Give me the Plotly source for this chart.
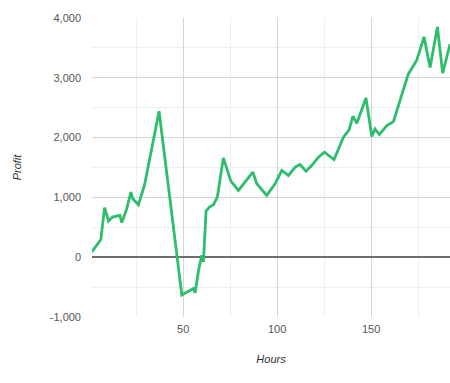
import plotly.graph_objects as go

hours = [1.4, 6.2, 8.2, 10.3, 12.4, 16.3, 17.4, 20, 22.2, 23.2, 26.2, 29.4, 37.2,
         49.3, 55.5, 56.4, 58.2, 59.9, 60.8, 62.2, 64, 66.1, 68.2, 71.4, 75.4, 79.4,
         87.1, 89.2, 94.5, 98.9, 102.5, 106, 109.6, 112.2, 115.4, 118.4, 122, 125.2,
         130.3, 135.3, 138.3, 140.3, 142.4, 147.3, 150.4, 152.1, 154.4, 158.4, 161.9,
         169.8, 174.3, 178.2, 181.4, 185.3, 188.1, 192]
profit = [88, 295, 828, 605, 672, 700, 578, 811, 1089, 978, 878, 1200, 2440,
          -633, -522, -594, -217, 33, -78, 772, 839, 878, 1006, 1661, 1272, 1117,
          1422, 1228, 1033, 1228, 1450, 1367, 1506, 1550, 1439, 1533, 1672, 1756,
          1633, 2006, 2128, 2356, 2239, 2661, 2017, 2144, 2050, 2200, 2267,
          3061, 3294, 3683, 3172, 3850, 3078, 3561]

x_ticks = [50, 100, 150]
y_ticks = [-1000, 0, 1000, 2000, 3000, 4000]
y_tick_text = ["-1,000", "0", "1,000", "2,000", "3,000", "4,000"]

font = "Liberation Sans, Arial, sans-serif"

fig = go.Figure()
fig.add_trace(go.Scatter(
    x=hours, y=profit, mode="lines",
    line=dict(color="#2dbe6c", width=2.8),
    hoverinfo="skip", showlegend=False,
))

fig.update_layout(
    width=450, height=383,
    margin=dict(l=92, r=0, t=18, b=66),
    paper_bgcolor="white", plot_bgcolor="white",
    font=dict(family=font, size=11, color="#555"),
    xaxis=dict(
        range=[1.5, 192], tickvals=x_ticks, ticktext=[str(v) for v in x_ticks],
        showgrid=True, gridcolor="#d6d6d6", gridwidth=1,
        minor=dict(dtick=25, tick0=0, showgrid=True, gridcolor="#eeeeee", gridwidth=1),
        zeroline=False, showline=False, ticks="", ticklabelstandoff=4,
        tickfont=dict(size=11, color="#555"),
        title=dict(text="<i>Hours</i>", font=dict(size=11, color="#333"), standoff=21),
    ),
    yaxis=dict(
        range=[-1000, 4000], tickvals=y_ticks, ticktext=y_tick_text,
        showgrid=True, gridcolor="#d6d6d6", gridwidth=1,
        minor=dict(dtick=500, tick0=0, showgrid=True, gridcolor="#eeeeee", gridwidth=1),
        zeroline=True, zerolinecolor="#6e6e6e", zerolinewidth=1.5,
        showline=False, ticks="", ticklabelstandoff=10,
        tickfont=dict(size=11, color="#555"),
        title=dict(text="<i>Profit</i>", font=dict(size=11, color="#333"), standoff=25),
    ),
)

fig.write_html("out.html",
               config={"displayModeBar": False},
               post_script="document.body.style.margin='0';document.body.style.overflow='hidden';")
